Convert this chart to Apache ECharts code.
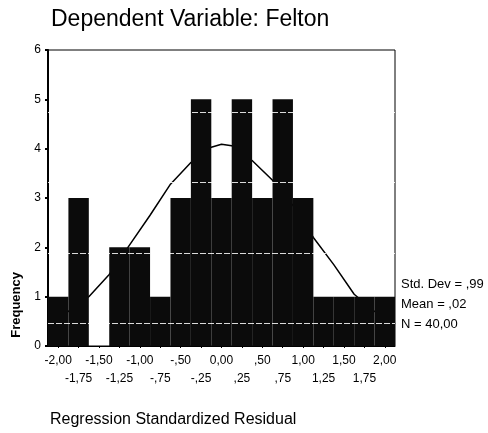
<!DOCTYPE html>
<html>
<head>
<meta charset="utf-8">
<script src="https://cdn.jsdelivr.net/npm/echarts@6/dist/echarts.min.js"></script>
<style>
  html, body { margin: 0; padding: 0; background: #fff; }
  #chart { width: 488px; height: 433px; }
</style>
</head>
<body>
<div id="chart"></div>
<script>
// Histogram bins: midpoints of 0.25-wide intervals and their counts
const binLabels = ['-2,00','-1,75','-1,50','-1,25','-1,00','-,75','-,50','-,25','0,00',',25',',50',',75','1,00','1,25','1,50','1,75','2,00'];
const binCounts = [1, 3, 0, 2, 2, 1, 3, 5, 3, 5, 3, 5, 3, 1, 1, 1, 1];

// Fitted normal curve, sampled along the residual axis
const curveX = [-2.125, -1.875, -1.625, -1.375, -1.125, -0.875, -0.625, -0.375, -0.125, 0.0, 0.125, 0.375, 0.625, 0.875, 1.125, 1.375, 1.625, 1.875, 2.125];
const curveY = [0.45, 0.7, 1.0, 1.45, 2.05, 2.65, 3.28, 3.72, 4.03, 4.09, 4.06, 3.76, 3.36, 2.85, 2.2, 1.65, 1.05, 0.7, 0.45];

// Summary statistics shown beside the plot
const statLines = ['Std. Dev = ,99', 'Mean = ,02', 'N = 40,00'];

// Frequency axis ticks
const yMin = 0, yMax = 6, yStep = 1;

// Faint light streaks across the dark fill
const streakLevels = [0.47, 1.89, 3.31, 4.73];

const font = 'Liberation Sans, Arial, sans-serif';
const chart = echarts.init(document.getElementById('chart'));

chart.setOption({
  animation: false,
  backgroundColor: '#fff',
  title: {
    text: 'Dependent Variable: Felton',
    left: 46, top: 3,
    textStyle: { fontFamily: font, fontSize: 23, fontWeight: 'normal', color: '#000' }
  },
  grid: {
    left: 48, right: 93, top: 50, bottom: 87,
    show: true, borderColor: '#000', borderWidth: 1, backgroundColor: 'transparent'
  },
  xAxis: [
    {
      type: 'category',
      data: binLabels,
      boundaryGap: true,
      axisLine: { show: true, onZero: false, lineStyle: { color: '#000', width: 1 } },
      axisTick: { show: true, alignWithLabel: true, length: 2, lineStyle: { color: '#000' } },
      axisLabel: {
        interval: 0,
        fontFamily: font, fontSize: 12, color: '#000',
        lineHeight: 18, margin: 6,
        formatter: (v, i) => (i % 2 ? '\n' + v : v)
      },
      splitLine: { show: false }
    },
    {
      type: 'value',
      min: -2.125, max: 2.125,
      show: false
    }
  ],
  yAxis: {
    type: 'value',
    min: yMin, max: yMax, interval: yStep,
    axisLine: { show: true, onZero: false, lineStyle: { color: '#000', width: 2 } },
    axisTick: { show: true, length: 3, lineStyle: { color: '#000', width: 2 } },
    axisLabel: { fontFamily: font, fontSize: 12, color: '#000', margin: 7 },
    splitLine: { show: false }
  },
  graphic: [
    {
      type: 'text', left: 10, top: 272, rotation: Math.PI / 2,
      style: { text: 'Frequency', font: 'bold 13px ' + font, fill: '#000' }
    },
    {
      type: 'text', left: 50, top: 412,
      style: { text: 'Regression Standardized Residual', font: '16px ' + font, fill: '#000' }
    },
    ...statLines.map((t, i) => ({
      type: 'text', left: 401, top: 278 + i * 20,
      style: { text: t, font: '13px ' + font, fill: '#000' }
    }))
  ],
  series: [
    {
      type: 'line',
      xAxisIndex: 1,
      data: curveX.map((x, i) => [x, curveY[i]]),
      showSymbol: false,
      smooth: false,
      lineStyle: { color: '#000', width: 1.5 },
      z: 1
    },
    {
      type: 'bar',
      data: binCounts,
      barCategoryGap: '0%',
      itemStyle: { color: '#0b0b0b' },
      markLine: {
        silent: true,
        symbol: 'none',
        label: { show: false },
        lineStyle: { color: '#fff', width: 1.2, type: [6, 2], opacity: 0.85 },
        data: streakLevels.map(v => ({ yAxis: v }))
      },
      z: 2
    }
  ]
});
</script>
</body>
</html>
